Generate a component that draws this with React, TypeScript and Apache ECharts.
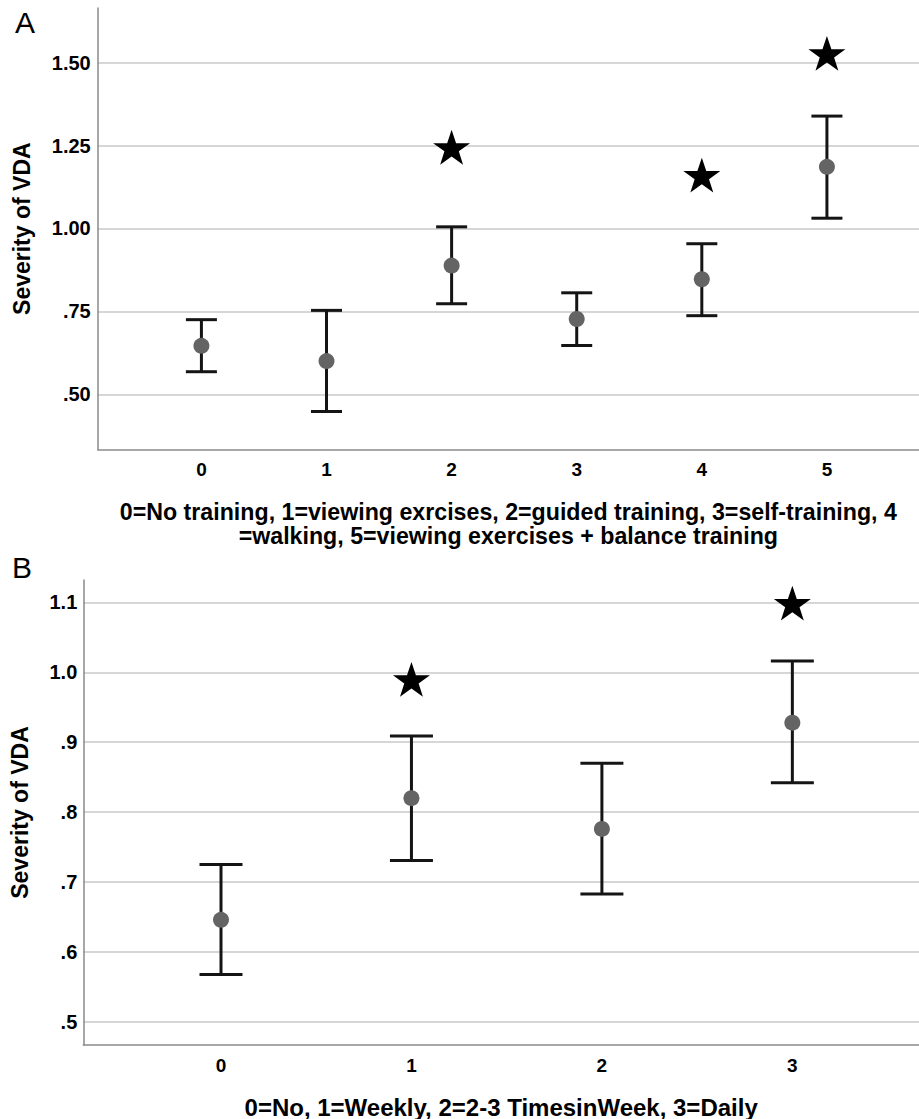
import React, { useEffect, useRef } from "react";
import * as echarts from "echarts";

// Panel A: training type
const catsA = [0, 1, 2, 3, 4, 5];
const meanA = [0.646, 0.6, 0.888, 0.727, 0.847, 1.186];
const lowA = [0.568, 0.448, 0.773, 0.647, 0.737, 1.031];
const highA = [0.725, 0.753, 1.005, 0.806, 0.954, 1.339];
const starCatsA = [2, 4, 5];
const starValsA = [1.245, 1.161, 1.528];
const yTicksA = [0.5, 0.75, 1.0, 1.25, 1.5];
const xTitleA =
  "0=No training, 1=viewing exrcises, 2=guided training, 3=self-training, 4\n=walking, 5=viewing exercises + balance training";

// Panel B: training frequency
const catsB = [0, 1, 2, 3];
const meanB = [0.646, 0.82, 0.776, 0.928];
const lowB = [0.568, 0.731, 0.683, 0.842];
const highB = [0.725, 0.909, 0.87, 1.016];
const starCatsB = [1, 3];
const starValsB = [0.99, 1.099];
const yTicksB = [0.5, 0.6, 0.7, 0.8, 0.9, 1.0, 1.1];
const xTitleB = "0=No, 1=Weekly, 2=2-3 TimesinWeek, 3=Daily";

const yName = "Severity of VDA";
const FONT = "'Liberation Sans', Arial, Helvetica, sans-serif";
const STAR =
  "path://M50,0 L61.8,35.1 L98.9,35.1 L69,56.8 L80.3,91.9 L50,70.2 L19.7,91.9 L31,56.8 L1.1,35.1 L38.2,35.1 Z";

const stripZero = (v: number, d: number) => {
  const s = v.toFixed(d);
  return s.startsWith("0") ? s.slice(1) : s;
};

function errorBars(idx: number, cats: number[], low: number[], high: number[], hw: number) {
  return {
    type: "custom",
    xAxisIndex: idx,
    yAxisIndex: idx,
    z: 3,
    data: cats.map((c, i) => [c, low[i], high[i]]),
    encode: { x: 0, y: [1, 2] },
    renderItem: (params: any, api: any) => {
      const x = api.value(0);
      const pLo = api.coord([x, api.value(1)]);
      const pHi = api.coord([x, api.value(2)]);
      const st = { stroke: "#141414", lineWidth: 3 };
      return {
        type: "group",
        children: [
          { type: "line", shape: { x1: pLo[0], y1: pLo[1], x2: pHi[0], y2: pHi[1] }, style: st },
          { type: "line", shape: { x1: pLo[0] - hw, y1: pLo[1], x2: pLo[0] + hw, y2: pLo[1] }, style: st },
          { type: "line", shape: { x1: pHi[0] - hw, y1: pHi[1], x2: pHi[0] + hw, y2: pHi[1] }, style: st },
        ],
      };
    },
  };
}

function dots(idx: number, cats: number[], mean: number[]) {
  return {
    type: "scatter",
    xAxisIndex: idx,
    yAxisIndex: idx,
    z: 4,
    symbol: "circle",
    symbolSize: 16,
    itemStyle: { color: "#646464", opacity: 1 },
    data: cats.map((c, i) => [c, mean[i]]),
  };
}

function stars(idx: number, cats: number[], vals: number[]) {
  return {
    type: "scatter",
    xAxisIndex: idx,
    yAxisIndex: idx,
    z: 4,
    symbol: STAR,
    symbolKeepAspect: true,
    symbolSize: 37,
    itemStyle: { color: "#000", opacity: 1 },
    data: cats.map((c, i) => [c, vals[i]]),
  };
}

function xAxis(idx: number, min: number, max: number, cats: number[], name: string, gap: number, size: number) {
  return {
    type: "value",
    gridIndex: idx,
    min,
    max,
    axisLine: { show: true, onZero: false, lineStyle: { color: "#8a8a8a", width: 1.5 } },
    axisTick: { show: false, customValues: cats },
    splitLine: { show: false },
    axisLabel: {
      customValues: cats,
      margin: 11,
      color: "#000",
      fontFamily: FONT,
      fontWeight: "bold",
      fontSize: 19,
      formatter: (v: number) => String(Math.round(v)),
    },
    name,
    nameLocation: "middle",
    nameGap: gap,
    nameTextStyle: {
      color: "#000",
      fontFamily: FONT,
      fontWeight: "bold",
      fontSize: size,
      lineHeight: 24,
      align: "center",
    },
  };
}

function yAxis(idx: number, min: number, max: number, ticks: number[], dec: number, margin: number, gap: number) {
  return {
    type: "value",
    gridIndex: idx,
    min,
    max,
    axisLine: { show: true, onZero: false, lineStyle: { color: "#8a8a8a", width: 1.5 } },
    axisTick: { show: false, customValues: ticks },
    splitLine: { show: true, lineStyle: { color: "#c8c8c8", width: 1.5 } },
    axisLabel: {
      customValues: ticks,
      margin,
      color: "#000",
      fontFamily: FONT,
      fontWeight: "bold",
      fontSize: 20,
      formatter: (v: number) => stripZero(v, dec),
    },
    name: yName,
    nameLocation: "middle",
    nameGap: gap,
    nameTextStyle: { color: "#000", fontFamily: FONT, fontWeight: "bold", fontSize: 23 },
  };
}

export default function App() {
  const ref = useRef<HTMLDivElement>(null);
  useEffect(() => {
    if (!ref.current) return;
    const chart = echarts.init(ref.current, null, { renderer: "svg" });
    chart.setOption({
      animation: false,
      backgroundColor: "#fff",
      grid: [
        { left: 97.7, top: 8, width: 821.3, height: 441.3, containLabel: false, outerBoundsMode: "none" },
        { left: 83.3, top: 580, width: 835.7, height: 465, containLabel: false, outerBoundsMode: "none" },
      ],
      xAxis: [
        xAxis(0, -0.829, 5.736, catsA, xTitleA, 51, 23.2),
        xAxis(1, -0.723, 3.665, catsB, xTitleB, 50, 24),
      ],
      yAxis: [
        yAxis(0, 0.334, 1.665, yTicksA, 2, 7, 64),
        yAxis(1, 0.467, 1.132, yTicksB, 1, 6, 52),
      ],
      graphic: [
        { type: "text", x: 15, y: 22.5, style: { text: "A", font: `30px ${FONT}`, fill: "#000", verticalAlign: "middle" } },
        { type: "text", x: 12, y: 567, style: { text: "B", font: `30px ${FONT}`, fill: "#000", verticalAlign: "middle" } },
      ],
      series: [
        errorBars(0, catsA, lowA, highA, 15.5),
        dots(0, catsA, meanA),
        stars(0, starCatsA, starValsA),
        errorBars(1, catsB, lowB, highB, 21.5),
        dots(1, catsB, meanB),
        stars(1, starCatsB, starValsB),
      ],
    });
    return () => chart.dispose();
  }, []);
  return (
    <div
      ref={ref}
      style={{ position: "absolute", left: 0, top: 0, width: 919, height: 1119, background: "#fff" }}
    />
  );
}
